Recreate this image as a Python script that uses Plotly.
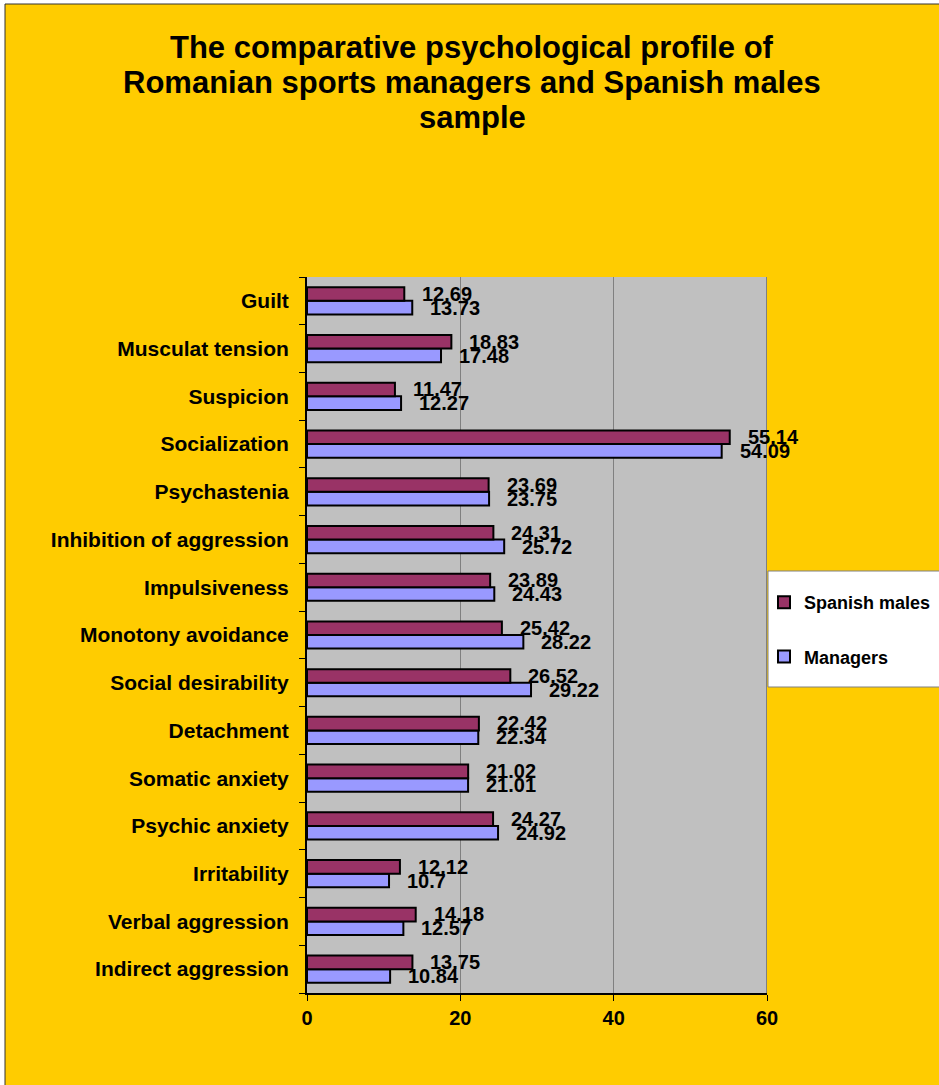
import plotly.graph_objects as go

# Scales, listed bottom-to-top as they appear on the category axis
categories = [
    "Indirect aggression", "Verbal aggression", "Irritability", "Psychic anxiety",
    "Somatic anxiety", "Detachment", "Social desirability", "Monotony avoidance",
    "Impulsiveness", "Inhibition of aggression", "Psychastenia", "Socialization",
    "Suspicion", "Musculat tension", "Guilt",
]
managers = [10.84, 12.57, 10.7, 24.92, 21.01, 22.34, 29.22, 28.22,
            24.43, 25.72, 23.75, 54.09, 12.27, 17.48, 13.73]
spanish_males = [13.75, 14.18, 12.12, 24.27, 21.02, 22.42, 26.52, 25.42,
                 23.89, 24.31, 23.69, 55.14, 11.47, 18.83, 12.69]
x_ticks = [0, 20, 40, 60]
title_lines = [
    "The comparative psychological profile of",
    "Romanian sports managers and Spanish males",
    "sample",
]

FONT = "Liberation Sans, Arial, sans-serif"
GOLD = "#FFCC00"
W, H = 939, 1085
L, R, T, B = 307, 172, 277, 92
PW, PH = W - L - R, H - T - B


def px_x(p):
    """Page pixel column -> paper x fraction."""
    return (p - L) / PW


def px_y(p):
    """Page pixel row -> paper y fraction."""
    return (H - B - p) / PH


fig = go.Figure()
fig.add_trace(go.Bar(
    y=categories, x=managers, orientation="h", name="Managers",
    marker=dict(color="#9999FF", line=dict(color="black", width=2)),
    legendgroup="m", legendrank=2,
))
fig.add_trace(go.Bar(
    y=categories, x=spanish_males, orientation="h", name="Spanish males",
    marker=dict(color="#993366", line=dict(color="black", width=2)),
    legendgroup="s", legendrank=1,
))

# value labels just past the end of each bar
label_font = dict(family=FONT, size=20, color="black", weight="bold")
annotations = []
for cat, v in zip(categories, spanish_males):
    annotations.append(dict(x=v, y=cat, xref="x", yref="y", text=f"{v:g}",
                            showarrow=False, xanchor="left", yanchor="middle",
                            xshift=16, yshift=7, font=label_font))
for cat, v in zip(categories, managers):
    annotations.append(dict(x=v, y=cat, xref="x", yref="y", text=f"{v:g}",
                            showarrow=False, xanchor="left", yanchor="middle",
                            xshift=16, yshift=-7, font=label_font))

# chart title, one centred line per annotation
for i, line in enumerate(title_lines):
    annotations.append(dict(x=px_x(472), y=px_y(47 + 35 * i),
                            xref="paper", yref="paper", text=line,
                            showarrow=False, xanchor="center", yanchor="middle",
                            font=dict(family=FONT, size=31, color="black", weight="bold")))

shapes = [
    # white margin strips and the outer chart frame
    dict(type="rect", xref="paper", yref="paper", x0=px_x(-10), x1=px_x(W + 10),
         y0=px_y(4), y1=px_y(-10), fillcolor="white", line=dict(width=0)),
    dict(type="rect", xref="paper", yref="paper", x0=px_x(-10), x1=px_x(5),
         y0=px_y(H + 10), y1=px_y(-10), fillcolor="white", line=dict(width=0)),
    dict(type="rect", xref="paper", yref="paper", x0=px_x(5), x1=px_x(W + 10),
         y0=px_y(H + 10), y1=px_y(4), fillcolor="rgba(0,0,0,0)",
         line=dict(color="#333333", width=1)),
    # right edge of the plot area
    dict(type="line", xref="x", yref="paper", x0=60, x1=60, y0=0, y1=1,
         line=dict(color="#808080", width=2)),
    # legend box
    dict(type="rect", xref="paper", yref="paper", x0=px_x(768), x1=px_x(W + 10),
         y0=px_y(687), y1=px_y(571), fillcolor="white",
         line=dict(color="#808080", width=1)),
]

fig.update_layout(
    width=W, height=H,
    margin=dict(l=L, r=R, t=T, b=B, autoexpand=False),
    paper_bgcolor=GOLD, plot_bgcolor="#C0C0C0",
    barmode="group", bargap=0.43, bargroupgap=0,
    font=dict(family=FONT, color="black"),
    xaxis=dict(
        range=[0, 60], tickvals=x_ticks, ticktext=[str(t) for t in x_ticks],
        showgrid=True, gridcolor="#808080", gridwidth=1,
        showline=True, linecolor="black", linewidth=2,
        ticks="outside", ticklen=6, tickcolor="black", tickwidth=1,
        zeroline=False, fixedrange=True, automargin=False,
        tickfont=dict(family=FONT, size=20, color="black", weight="bold"),
    ),
    yaxis=dict(
        type="category", categoryorder="array", categoryarray=categories,
        showline=True, linecolor="black", linewidth=2,
        ticks="outside", ticklen=6, tickcolor="black", tickwidth=1,
        tickson="boundaries", ticklabelstandoff=12,
        showgrid=False, fixedrange=True, automargin=False,
        tickfont=dict(family=FONT, size=21, color="black", weight="bold"),
    ),
    legend=dict(
        xref="container", yref="container",
        x=764 / W, xanchor="left", y=1 - 584 / H, yanchor="top",
        bgcolor="rgba(0,0,0,0)", borderwidth=0,
        traceorder="grouped", tracegroupgap=28,
        font=dict(family=FONT, size=18, color="black", weight="bold"),
    ),
    annotations=annotations,
    shapes=shapes,
    showlegend=True,
)

fig.write_html("out.html")
